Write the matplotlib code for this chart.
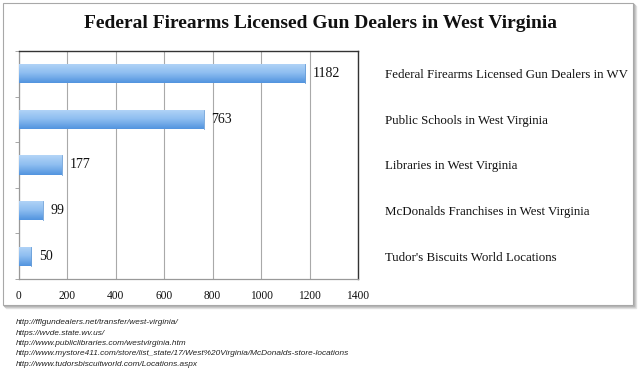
import matplotlib
matplotlib.use("Agg")
import matplotlib.pyplot as plt
import numpy as np
from matplotlib.patches import Rectangle
from matplotlib.colors import LinearSegmentedColormap

categories = [
    "Federal Firearms Licensed Gun Dealers in WV",
    "Public Schools in West Virginia",
    "Libraries in West Virginia",
    "McDonalds Franchises in West Virginia",
    "Tudor's Biscuits World Locations",
]
values = [1182, 763, 177, 99, 50]
xticks = [0, 200, 400, 600, 800, 1000, 1200, 1400]
title = "Federal Firearms Licensed Gun Dealers in West Virginia"
sources = [
    "http://fflgundealers.net/transfer/west-virginia/",
    "https://wvde.state.wv.us/",
    "http://www.publiclibraries.com/westvirginia.htm",
    "http://www.mystore411.com/store/list_state/17/West%20Virginia/McDonalds-store-locations",
    "http://www.tudorsbiscuitworld.com/Locations.aspx",
]

W, H = 640, 369
fig = plt.figure(figsize=(W / 100, H / 100), dpi=100)
fig.patch.set_facecolor("white")

def fx(px): return px / W
def fy(py): return 1 - py / H

# frame with shadow
for off, col in [(3, "#e4e4e4"), (2, "#cfcfcf"), (1, "#b5b5b5")]:
    fig.patches.append(Rectangle((fx(3 + off), fy(305 + off)), fx(630), (305 - 3) / H,
                                 transform=fig.transFigure, facecolor="none",
                                 edgecolor=col, lw=1.0, zorder=0))
fig.patches.append(Rectangle((fx(3), fy(305)), fx(630), (305 - 3) / H,
                             transform=fig.transFigure, facecolor="white",
                             edgecolor="#a8a8a8", lw=0.8, zorder=0.5))

ax = fig.add_axes([fx(19), fy(279), fx(358 - 19), (279 - 51) / H])
ax.set_zorder(2)
ax.set_facecolor("none")
n = len(categories)
y = np.arange(n)
bar_h = 0.42
bars = ax.barh(y, values, height=bar_h, color="none", edgecolor="none", zorder=3)
ax.set_xlim(0, 1400)
ax.set_ylim(n - 0.5, -0.5)

cmap = LinearSegmentedColormap.from_list("g", ["#b4d5f7", "#8dbdf0", "#5294df"])
grad = np.linspace(0, 1, 64).reshape(-1, 1)
for b in bars:
    x0, y0 = b.get_x(), b.get_y()
    w, h = b.get_width(), b.get_height()
    im = ax.imshow(grad, cmap=cmap, aspect="auto", extent=[x0, x0 + w, y0 + h, y0],
                   zorder=3, interpolation="bilinear")
    im.set_clip_path(b)
    ax.plot([x0 + w, x0 + w], [y0, y0 + h], color="#6a9fd8", lw=0.6, zorder=4)

for yi, v in zip(y, values):
    ax.text(v + 32, yi, str(v), va="center", ha="left", family="Liberation Serif",
            fontsize=10, color="#111111", zorder=5)

ax.set_xticks(xticks)
ax.set_xticklabels([str(t) for t in xticks], family="Liberation Serif", fontsize=8.3, color="#111111")
ax.tick_params(axis="x", length=0, pad=8)
ax.grid(axis="x", color="#a9a9a9", lw=0.8, zorder=1)
ax.set_axisbelow(True)

ax.set_yticks(y)
ax.set_yticklabels(categories, family="Liberation Serif", fontsize=9.3, color="#111111")
ax.yaxis.tick_right()
ax.tick_params(axis="y", which="major", length=0, pad=19.5)
ax.set_yticks(np.arange(-0.5, n, 1.0), minor=True)
ax.tick_params(axis="y", which="minor", left=True, right=False, length=3,
               color="#999999", direction="out")

for s in ["top", "right"]:
    ax.spines[s].set_color("#333333")
    ax.spines[s].set_linewidth(1.0)
for s in ["left", "bottom"]:
    ax.spines[s].set_color("#999999")
    ax.spines[s].set_linewidth(0.9)

fig.text(0.5, fy(24), title, ha="center", va="center", family="Liberation Serif",
         fontweight="bold", fontsize=14.0, color="#111111")

for i, s in enumerate(sources):
    fig.text(fx(16), fy(323 + i * 10.3), s, ha="left", va="center",
             family="Liberation Sans", style="italic", fontsize=5.95, color="#222222")

fig.savefig("out.png", dpi=100, facecolor="white")
